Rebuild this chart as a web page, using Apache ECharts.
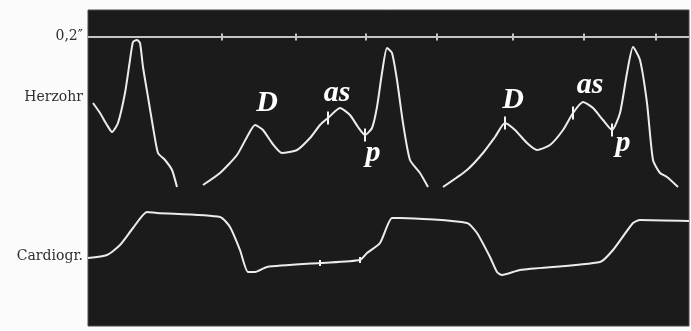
<!DOCTYPE html>
<html><head><meta charset="utf-8">
<script src="https://cdn.jsdelivr.net/npm/echarts@6/dist/echarts.min.js"></script>
<style>html,body{margin:0;padding:0;background:#fbfbfb}#c{width:691px;height:331px}</style>
</head><body><div id="c"></div>
<script>
// Panel units: x = horizontal position along the recording, y = vertical deflection
var herzohr1 = [[5,223],[12,213],[19,201],[24,194],[30,203],[37,233],[42,266],[45,284],[49,286],[52,283],[55,259],[60,229],[65,199],[70,173],[77,166],[84,156],[89,139]];
var herzohr2 = [[115,141],[132,153],[149,171],[159,189],[167,201],[175,196],[184,183],[194,173],[209,176],[222,188],[232,201],[240,208],[252,218],[262,211],[270,199],[277,191],[284,198],[289,219],[294,253],[299,278],[304,273],[309,246],[315,203],[322,166],[332,153],[340,139]];
var herzohr3 = [[355,139],[379,156],[395,173],[407,189],[417,203],[427,196],[439,183],[449,176],[462,181],[475,196],[485,213],[495,224],[505,218],[515,206],[524,196],[532,213],[539,253],[545,279],[552,266],[559,223],[565,166],[572,153],[579,149],[590,139]];
var cardiogr = [[0,68],[19,71],[32,81],[45,98],[59,114],[69,113],[132,109],[142,99],[152,76],[160,54],[167,54],[179,59],[232,63],[272,66],[279,73],[292,83],[304,108],[312,108],[379,103],[389,93],[402,69],[409,54],[414,51],[432,56],[512,64],[525,76],[545,103],[552,106],[601,105]];
var timeLine = [[0,289],[601,289]];
var timeTicks = [[134,289],[208,289],[278,289],[349,289],[425,289],[496,289],[568,289]];
var herzMarks = [[240,208],[277,191],[417,203],[485,213],[524,196]];
var cardioMarks = [[232,63],[272,66]];
var annotations = [[179,223,'D'],[249,233,'as'],[285,173,'p'],[425,226,'D'],[502,241,'as'],[535,183,'p']];
var rowLabelValues = [290,229,70];
var rowLabels = ['0,2\u2033','Herzohr','Cardiogr.'];

var traceStyle = {color:'#ececec', width:2};
function trace(d){return {type:'line',data:d,showSymbol:false,smooth:0.2,lineStyle:traceStyle,silent:true};}
var chart = echarts.init(document.getElementById('c'));
chart.setOption({
  animation:false,
  backgroundColor:'#fbfbfb',
  grid:{left:88,right:2,top:10,bottom:5,show:true,backgroundColor:'#1b1b1b',borderColor:'#4a4a4a',borderWidth:1},
  xAxis:{type:'value',min:0,max:601,show:false},
  yAxis:{type:'value',min:0,max:316,splitLine:{show:false},axisLine:{show:false},axisTick:{show:false},
    axisLabel:{customValues:rowLabelValues,margin:5,color:'#2e2e2e',fontFamily:'DejaVu Serif',fontSize:14,
      formatter:function(v){var i=rowLabelValues.indexOf(v);return i>=0?rowLabels[i]:'';}}},
  series:[
    {type:'line',data:timeLine,showSymbol:false,lineStyle:{color:'#c4c4c4',width:2},silent:true},
    {type:'scatter',data:timeTicks,symbol:'rect',symbolSize:[2,7],itemStyle:{color:'#c4c4c4',opacity:1},silent:true},
    trace(herzohr1),trace(herzohr2),trace(herzohr3),trace(cardiogr),
    {type:'scatter',data:herzMarks,symbol:'rect',symbolSize:[2,13],itemStyle:{color:'#f4f4f4',opacity:1},silent:true},
    {type:'scatter',data:cardioMarks,symbol:'rect',symbolSize:[2,6],itemStyle:{color:'#f4f4f4',opacity:1},silent:true},
    {type:'scatter',data:annotations.map(function(a){return [a[0],a[1],a[2]];}),symbolSize:0,silent:true,
      itemStyle:{opacity:1},
      label:{show:true,position:'inside',formatter:function(p){return p.value[2];},color:'#ffffff',
        fontFamily:'Liberation Serif',fontStyle:'italic',fontWeight:'bold',fontSize:30}}
  ]
});
</script></body></html>
